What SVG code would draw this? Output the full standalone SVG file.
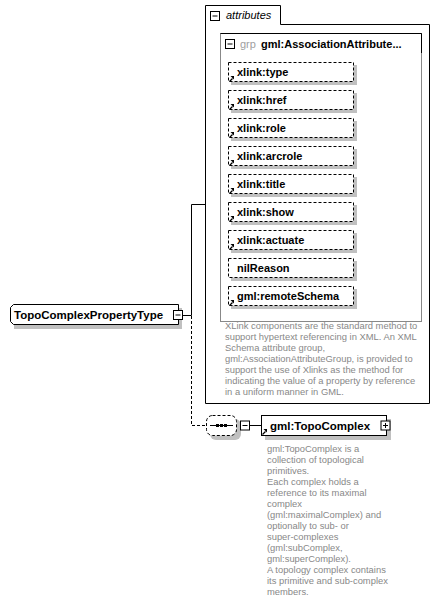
<svg xmlns="http://www.w3.org/2000/svg" width="440" height="613" viewBox="0 0 440 613">
<style>
.bg{fill:#ffffff}
.ln{stroke:#000;stroke-width:1;fill:none}
.dl{stroke:#000;stroke-width:1;fill:none;stroke-dasharray:3,2}
.sh{fill:#c0c0c0}
.box{fill:#fff;stroke:#000;stroke-width:1}
.dbox{fill:#fff;stroke:#000;stroke-width:1;stroke-dasharray:3,2}
.lbl{font-family:"Liberation Sans",Arial,sans-serif;font-weight:bold;font-size:11px;fill:#000}
.big{font-family:"Liberation Sans",Arial,sans-serif;font-weight:bold;font-size:11.5px;fill:#000}
.ann{font-family:"Liberation Sans",Arial,sans-serif;font-size:9.4px;fill:#888}
.ital{font-family:"Liberation Sans",Arial,sans-serif;font-style:italic;font-size:11px;fill:#000}
.grp{font-family:"Liberation Sans",Arial,sans-serif;font-size:11px;fill:#a0a0a0}
</style>
<defs>
<g id="ref">
<line x1="0.5" y1="5.5" x2="3.5" y2="2.5" stroke="#000" stroke-width="1.2"/>
<polygon points="1.5,0 5,0 5,3.5" fill="#000"/>
</g>
<g id="minus">
<rect x="0.5" y="0.5" width="9" height="9" fill="#fff" stroke="#000"/>
<line x1="2.5" y1="5" x2="7.5" y2="5" stroke="#000"/>
</g>
<g id="plus">
<rect x="0.5" y="0.5" width="9" height="9" fill="#fff" stroke="#000"/>
<line x1="2.5" y1="5" x2="7.5" y2="5" stroke="#000"/>
<line x1="5" y1="2.5" x2="5" y2="7.5" stroke="#000"/>
</g>
</defs>
<rect class="bg" x="0" y="0" width="440" height="613"/>

<g id="connectors">
<polyline class="ln" points="183,315.5 191.5,315.5 191.5,204.5 205.5,204.5"/>
<polyline class="dl" points="191.5,316 191.5,425.5 206,425.5"/>
<line class="ln" x1="237" y1="425.5" x2="241" y2="425.5"/>
<line class="ln" x1="250" y1="425.5" x2="261" y2="425.5"/>
</g>

<g id="attributes">
<path class="ln" d="M205.5,403.5 V5.5 H280.5 V24.5 H429.5 V403.5 Z"/>
<use href="#minus" x="210" y="11"/>
<text class="ital" x="226" y="19">attributes</text>
<text class="ann" x="225" y="328.5">XLink components are the standard method to</text>
<text class="ann" x="225" y="339.5">support hypertext referencing in XML. An XML</text>
<text class="ann" x="225" y="350.5">Schema attribute group,</text>
<text class="ann" x="225" y="361.5">gml:AssociationAttributeGroup, is provided to</text>
<text class="ann" x="225" y="372.5">support the use of Xlinks as the method for</text>
<text class="ann" x="225" y="383.5">indicating the value of a property by reference</text>
<text class="ann" x="225" y="394.5">in a uniform manner in GML.</text>
</g>

<g id="grp">
<rect x="220.5" y="33.5" width="201" height="288" fill="#fff" stroke="#888"/>
<polyline class="ln" points="220.5,33.5 421.5,33.5 421.5,53"/>
<use href="#minus" x="225" y="39"/>
<text class="grp" x="240" y="48">grp</text>
<text class="lbl" x="261" y="48">gml:AssociationAttribute...</text>
</g>

<g id="xlink-type">
<rect class="sh" x="231" y="65" width="126" height="20"/>
<rect class="dbox" x="228.5" y="62.5" width="125" height="19"/>
<use href="#ref" x="229" y="76"/>
<text class="lbl" x="237" y="76">xlink:type</text>
</g>
<g id="xlink-href">
<rect class="sh" x="231" y="93" width="126" height="20"/>
<rect class="dbox" x="228.5" y="90.5" width="125" height="19"/>
<use href="#ref" x="229" y="104"/>
<text class="lbl" x="237" y="104">xlink:href</text>
</g>
<g id="xlink-role">
<rect class="sh" x="231" y="121" width="126" height="20"/>
<rect class="dbox" x="228.5" y="118.5" width="125" height="19"/>
<use href="#ref" x="229" y="132"/>
<text class="lbl" x="237" y="132">xlink:role</text>
</g>
<g id="xlink-arcrole">
<rect class="sh" x="231" y="149" width="126" height="20"/>
<rect class="dbox" x="228.5" y="146.5" width="125" height="19"/>
<use href="#ref" x="229" y="160"/>
<text class="lbl" x="237" y="160">xlink:arcrole</text>
</g>
<g id="xlink-title">
<rect class="sh" x="231" y="177" width="126" height="20"/>
<rect class="dbox" x="228.5" y="174.5" width="125" height="19"/>
<use href="#ref" x="229" y="188"/>
<text class="lbl" x="237" y="188">xlink:title</text>
</g>
<g id="xlink-show">
<rect class="sh" x="231" y="205" width="126" height="20"/>
<rect class="dbox" x="228.5" y="202.5" width="125" height="19"/>
<use href="#ref" x="229" y="216"/>
<text class="lbl" x="237" y="216">xlink:show</text>
</g>
<g id="xlink-actuate">
<rect class="sh" x="231" y="233" width="126" height="20"/>
<rect class="dbox" x="228.5" y="230.5" width="125" height="19"/>
<use href="#ref" x="229" y="244"/>
<text class="lbl" x="237" y="244">xlink:actuate</text>
</g>
<g id="nilReason">
<rect class="sh" x="231" y="261" width="126" height="20"/>
<rect class="dbox" x="228.5" y="258.5" width="125" height="19"/>
<text class="lbl" x="237" y="272">nilReason</text>
</g>
<g id="gml-remoteSchema">
<rect class="sh" x="231" y="289" width="126" height="20"/>
<rect class="dbox" x="228.5" y="286.5" width="125" height="19"/>
<use href="#ref" x="229" y="300"/>
<text class="lbl" x="237" y="300">gml:remoteSchema</text>
</g>

<g id="TopoComplexPropertyType">
<polygon class="sh" points="17,308 182,308 182,329 14,329 14,311"/>
<polygon class="box" points="13.5,304.5 178.5,304.5 178.5,324.5 13.5,324.5 10.5,321.5 10.5,307.5"/>
<text class="big" x="14" y="319">TopoComplexPropertyType</text>
<use href="#minus" x="173" y="310"/>
</g>

<g id="sequence">
<rect class="sh" x="210" y="419" width="31" height="21" rx="6"/>
<rect class="dbox" x="206.5" y="415.5" width="30" height="20" rx="6"/>
<line class="ln" x1="210" y1="425.5" x2="233" y2="425.5"/>
<rect x="216" y="424" width="3" height="3" fill="#000"/>
<rect x="220" y="424" width="3" height="3" fill="#000"/>
<rect x="224" y="424" width="3" height="3" fill="#000"/>
<use href="#minus" x="240" y="420.5"/>
</g>

<g id="gml-TopoComplex">
<rect class="sh" x="265" y="419" width="126" height="21"/>
<rect class="box" x="261.5" y="415.5" width="125" height="20"/>
<use href="#ref" x="262" y="429"/>
<text class="big" x="270" y="430">gml:TopoComplex</text>
<use href="#plus" x="380.5" y="420.5"/>
<text class="ann" x="267" y="451.5">gml:TopoComplex is a</text>
<text class="ann" x="267" y="462.5">collection of topological</text>
<text class="ann" x="267" y="473.5">primitives.</text>
<text class="ann" x="267" y="484.5">Each complex holds a</text>
<text class="ann" x="267" y="495.5">reference to its maximal</text>
<text class="ann" x="267" y="506.5">complex</text>
<text class="ann" x="267" y="517.5">(gml:maximalComplex) and</text>
<text class="ann" x="267" y="528.5">optionally to sub- or</text>
<text class="ann" x="267" y="539.5">super-complexes</text>
<text class="ann" x="267" y="550.5">(gml:subComplex,</text>
<text class="ann" x="267" y="561.5">gml:superComplex).</text>
<text class="ann" x="267" y="572.5">A topology complex contains</text>
<text class="ann" x="267" y="583.5">its primitive and sub-complex</text>
<text class="ann" x="267" y="594.5">members.</text>
</g>
</svg>
